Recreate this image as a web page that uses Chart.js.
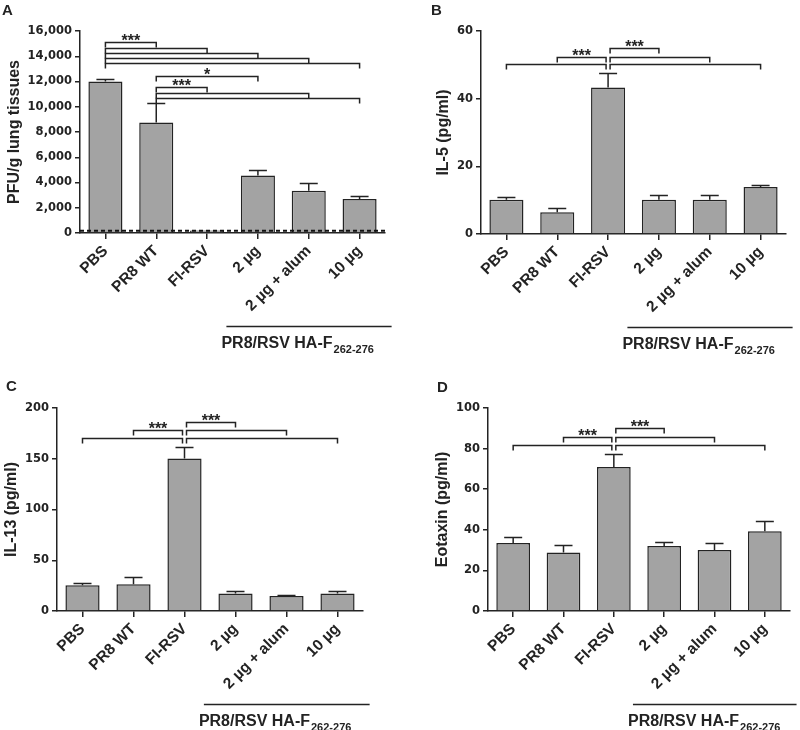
<!DOCTYPE html>
<html><head><meta charset="utf-8">
<script src="https://cdn.jsdelivr.net/npm/chart.js@4/dist/chart.umd.min.js"></script>
<style>
body{margin:0;background:#fff;}
#wrap{position:relative;width:800px;height:730px;overflow:hidden;}
canvas{position:absolute;}
</style></head><body>
<div id="wrap">
<canvas id="cA" width="400" height="365" style="left:0;top:0"></canvas>
<canvas id="cB" width="400" height="365" style="left:400px;top:0"></canvas>
<canvas id="cC" width="400" height="365" style="left:0;top:365px"></canvas>
<canvas id="cD" width="400" height="365" style="left:400px;top:365px"></canvas>
</div>
<script>
// ---------- data ----------
const categories = ['PBS', 'PR8 WT', 'FI-RSV', '2 µg', '2 µg + alum', '10 µg'];

const pfuMean = [12000, 8750, 200, 4550, 3350, 2700];
const pfuErrTop = [12200, 10300, 200, 5000, 3950, 2950];
const pfuLimit = 180;
const pfuTicks = { max: 16000, step: 2000 };
// [from index, to index, bracket height, label]
const pfuBrackets = [
  [0, 1, 15100, '***'], [0, 2, 14650, ''], [0, 3, 14250, ''], [0, 4, 13850, ''], [0, 5, 13450, ''],
  [1, 3, 12450, '*'], [1, 2, 11550, '***'], [1, 4, 11070, ''], [1, 5, 10680, '']
];

const il5Mean = [10.1, 6.4, 43.3, 10.1, 10.1, 13.9];
const il5ErrTop = [10.9, 7.7, 47.7, 11.6, 11.6, 14.6];
const il5Ticks = { max: 60, step: 20 };
const il5Brackets = [[2, 0, 50.1, ''], [2, 1, 52.4, '***'], [2, 3, 55.0, '***'], [2, 4, 52.4, ''], [2, 5, 50.1, '']];

const il13Mean = [25.4, 26.3, 150.2, 17.2, 14.9, 17.2];
const il13ErrTop = [27.8, 33.5, 161.2, 19.8, 16.2, 19.8];
const il13Ticks = { max: 200, step: 50 };
const il13Brackets = [[2, 0, 170, ''], [2, 1, 178.3, '***'], [2, 3, 186.5, '***'], [2, 4, 178.3, ''], [2, 5, 170, '']];

const eotMean = [33.5, 28.8, 70.9, 32.0, 30.0, 39.3];
const eotErrTop = [36.5, 32.4, 77.3, 34.0, 33.5, 44.2];
const eotTicks = { max: 100, step: 20 };
const eotBrackets = [[2, 0, 81.9, ''], [2, 1, 85.9, '***'], [2, 3, 90.0, '***'], [2, 4, 85.9, ''], [2, 5, 81.9, '']];

const groupLabel = 'PR8/RSV HA-F';
const groupSub = '262-276';
const groupSpan = [2.38, 5.63]; // in category units

// ---------- drawing ----------
const INK = '#232323';
const SANS = '"Liberation Sans", Arial, Helvetica, sans-serif';

const extrasPlugin = {
  id: 'extras',
  afterDatasetsDraw(chart, args, o) {
    const ctx = chart.ctx, x = chart.scales.x, y = chart.scales.y;
    const meta = chart.getDatasetMeta(0);
    ctx.save();
    ctx.strokeStyle = INK; ctx.lineWidth = 1.5; ctx.lineCap = 'butt';
    // error bars (upper only)
    o.errTop.forEach((e, i) => {
      if (e <= o.means[i]) return;
      const px = meta.data[i].x;
      const t = y.getPixelForValue(o.means[i]);
      const ey = Math.round(y.getPixelForValue(e)) + 0.5;
      ctx.beginPath();
      ctx.moveTo(px, t); ctx.lineTo(px, ey);
      ctx.moveTo(px - 9, ey); ctx.lineTo(px + 9, ey);
      ctx.stroke();
    });
    // detection limit
    if (o.limit != null) {
      const ly = y.getPixelForValue(o.limit);
      ctx.save();
      ctx.setLineDash([4, 3]); ctx.lineWidth = 2; ctx.strokeStyle = '#111';
      ctx.beginPath(); ctx.moveTo(chart.chartArea.left, ly); ctx.lineTo(chart.chartArea.right + 2, ly); ctx.stroke();
      ctx.restore();
    }
    // significance brackets
    ctx.font = 'bold 16px ' + SANS;
    ctx.textAlign = 'center'; ctx.textBaseline = 'alphabetic'; ctx.fillStyle = INK;
    o.brackets.forEach(([a, b, v, s]) => {
      const dir = Math.sign(b - a);
      const xa = x.getPixelForValue(a) + dir * o.gap;
      const xb = x.getPixelForValue(b);
      const py = Math.round(y.getPixelForValue(v)) + 0.5;
      ctx.beginPath();
      ctx.moveTo(xa, py + 5); ctx.lineTo(xa, py); ctx.lineTo(xb, py); ctx.lineTo(xb, py + 5);
      ctx.stroke();
      if (s) ctx.fillText(s, (xa + xb) / 2, py + 3);
    });
    ctx.restore();
  },
  afterDraw(chart, args, o) {
    const ctx = chart.ctx, x = chart.scales.x;
    ctx.save();
    // group line + label
    const x0 = x.getPixelForValue(groupSpan[0]);
    const x1 = x.getPixelForValue(groupSpan[1]);
    const gy = Math.round(chart.chartArea.bottom + o.groupDrop) + 0.5;
    ctx.strokeStyle = INK; ctx.lineWidth = 1.5;
    ctx.beginPath(); ctx.moveTo(x0, gy); ctx.lineTo(x1, gy); ctx.stroke();
    ctx.fillStyle = INK; ctx.textAlign = 'left'; ctx.textBaseline = 'alphabetic';
    ctx.font = 'bold 16px ' + SANS;
    const tx = x0 - 5;
    ctx.fillText(groupLabel, tx, gy + 21);
    const w = ctx.measureText(groupLabel).width;
    ctx.font = 'bold 11px ' + SANS;
    ctx.fillText(groupSub, tx + w + 1, gy + 26);
    // panel letter
    ctx.font = 'bold 15px ' + SANS;
    ctx.fillText(o.letter, o.letterX, o.letterY);
    ctx.restore();
  }
};

function makeChart(id, cfg) {
  return new Chart(document.getElementById(id), {
    type: 'bar',
    data: {
      labels: categories,
      datasets: [{
        data: cfg.means,
        backgroundColor: '#a3a3a3',
        borderColor: INK,
        borderWidth: 1.5,
        categoryPercentage: 1,
        barPercentage: 0.67
      }]
    },
    options: {
      responsive: false, animation: false, devicePixelRatio: 1,
      layout: { padding: { left: 0, right: cfg.padRight, top: cfg.padTop, bottom: 0 } },
      plugins: {
        legend: { display: false }, tooltip: { enabled: false },
        extras: {
          means: cfg.means, errTop: cfg.errTop, brackets: cfg.brackets, gap: cfg.gap,
          limit: cfg.limit, groupDrop: 93, letter: cfg.letter, letterX: cfg.letterX, letterY: cfg.letterY
        }
      },
      scales: {
        x: {
          grid: { offset: false, drawOnChartArea: false, drawTicks: true, tickLength: 6, color: INK, lineWidth: 1.5 },
          border: { color: INK, width: 1.5 },
          ticks: { autoSkip: false, maxRotation: 45, minRotation: 45, color: INK, padding: 3,
                   font: { family: SANS, size: 15.5, weight: 'bold' } },
          afterFit: s => { s.height = cfg.xH; }
        },
        y: {
          min: 0, max: cfg.ticks.max,
          ticks: { stepSize: cfg.ticks.step, color: INK, padding: 3,
                   font: { family: '"DejaVu Sans", sans-serif', size: 11.5, weight: 'bold' },
                   callback: v => Number(v).toLocaleString('en-US') },
          grid: { drawOnChartArea: false, drawTicks: true, tickLength: 5, color: INK, lineWidth: 1.5 },
          border: { color: INK, width: 1.5 },
          title: { display: true, text: cfg.title, color: INK,
                   font: { family: SANS, size: 16, weight: 'bold' },
                   padding: { top: cfg.titlePad, bottom: 0 } },
          afterFit: s => { s.width = cfg.yW; }
        }
      }
    },
    plugins: [extrasPlugin]
  });
}

makeChart('cA', { means: pfuMean, errTop: pfuErrTop, brackets: pfuBrackets, gap: 0, limit: pfuLimit,
  ticks: pfuTicks, title: 'PFU/g lung tissues', yW: 80, xH: 132, padRight: 15, padTop: 31, titlePad: 5,
  letter: 'A', letterX: 2, letterY: 15 });
makeChart('cB', { means: il5Mean, errTop: il5ErrTop, brackets: il5Brackets, gap: 2, limit: null,
  ticks: il5Ticks, title: 'IL-5 (pg/ml)', yW: 81, xH: 131, padRight: 14, padTop: 31, titlePad: 34,
  letter: 'B', letterX: 31, letterY: 15 });
makeChart('cC', { means: il13Mean, errTop: il13ErrTop, brackets: il13Brackets, gap: 2, limit: null,
  ticks: il13Ticks, title: 'IL-13 (pg/ml)', yW: 57, xH: 119, padRight: 37, padTop: 43, titlePad: 2,
  letter: 'C', letterX: 6, letterY: 26 });
makeChart('cD', { means: eotMean, errTop: eotErrTop, brackets: eotBrackets, gap: 2, limit: null,
  ticks: eotTicks, title: 'Eotaxin (pg/ml)', yW: 88, xH: 119, padRight: 10, padTop: 43, titlePad: 33,
  letter: 'D', letterX: 37, letterY: 27 });
</script>
</body></html>
